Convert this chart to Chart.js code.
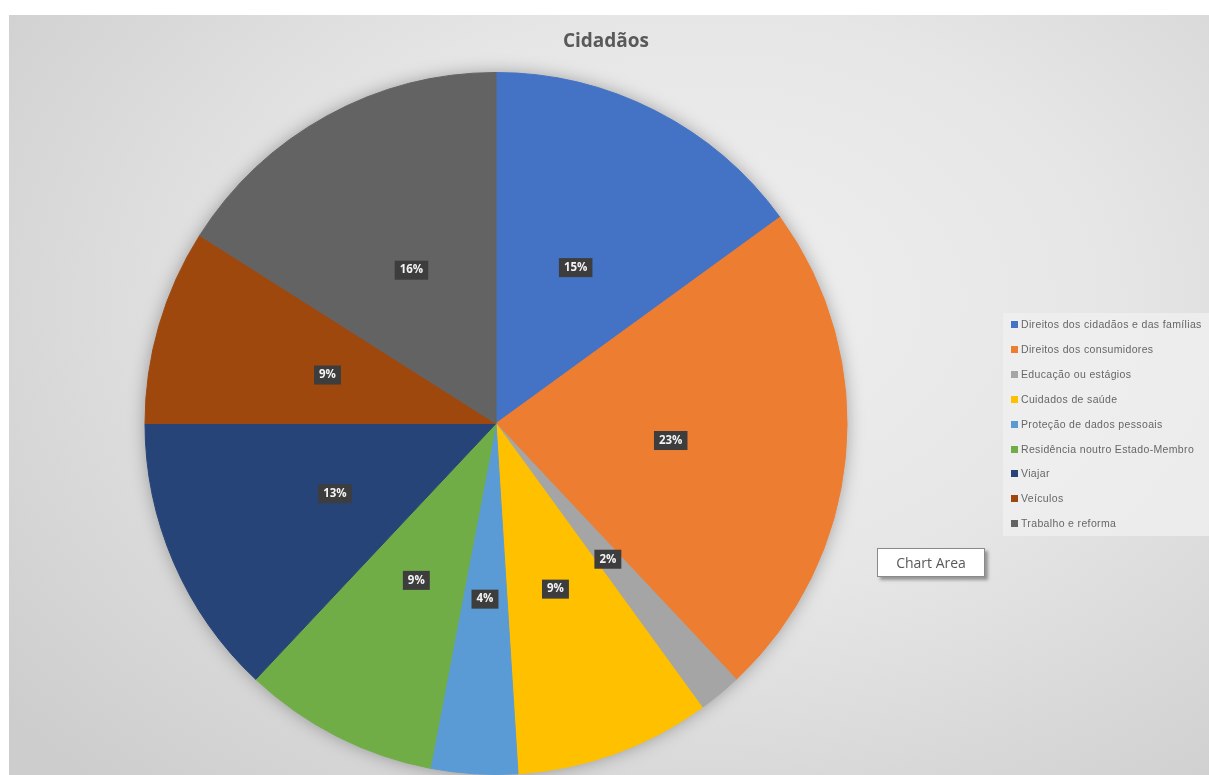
<!DOCTYPE html>
<html>
<head>
<meta charset="utf-8">
<script src="https://cdn.jsdelivr.net/npm/chart.js@4.4.1/dist/chart.umd.min.js"></script>
<style>
  html, body { margin: 0; padding: 0; background: #fff; overflow: hidden; }
  #wrap { position: relative; width: 1209px; height: 775px; }
  #bg {
    position: absolute; left: 9px; top: 15px; width: 1200px; height: 760px;
    background: radial-gradient(ellipse 75% 85% at 58% 38%, #efefef 0%, #e6e6e6 45%, #d8d8d8 75%, #cdcdcd 100%);
  }
  #chart { position: absolute; left: 0; top: 0; }
  #title {
    position: absolute; left: 456px; width: 300px; top: 27px; text-align: center;
    font: bold 19px "Open Sans", "DejaVu Sans", sans-serif; color: #595959;
  }
  #legend {
    position: absolute; left: 1003px; top: 313px; width: 220px; height: 223px;
    background: rgba(240,240,240,0.75);
    font: 10.5px "Liberation Sans", "DejaVu Sans", sans-serif; color: #666;
    letter-spacing: 0.35px;
  }
  #legend .item { position: absolute; left: 8px; white-space: nowrap; line-height: 12px; }
  #legend .sw { display: inline-block; width: 7px; height: 7px; margin-right: 3px; vertical-align: 0px; }
  #tip {
    position: absolute; left: 877px; top: 548px; width: 106px; height: 27px;
    background: #fff; border: 1px solid #8a8a8a; box-shadow: 3px 3px 3px rgba(0,0,0,0.35);
    font: 14px "Open Sans", "DejaVu Sans", sans-serif; color: #595959;
    text-align: center; line-height: 27px;
  }
</style>
</head>
<body>
<div id="wrap">
  <div id="bg"></div>
  <canvas id="chart" width="1209" height="775"></canvas>
  <div id="title">Cidadãos</div>
  <div id="legend"></div>
  <div id="tip">Chart Area</div>
</div>
<script>
// Data
const categories = [
    'Direitos dos cidadãos e das famílias',
    'Direitos dos consumidores',
    'Educação ou estágios',
    'Cuidados de saúde',
    'Proteção de dados pessoais',
    'Residência noutro Estado-Membro',
    'Viajar',
    'Veículos',
    'Trabalho e reforma'
];
const shares = [15, 23, 2, 9, 4, 9, 13, 9, 16];
const colors = ['#4472C4', '#ED7D31', '#A5A5A5', '#FFC000', '#5B9BD5', '#70AD47', '#264478', '#9E480E', '#636363'];

// Soft shadow behind the pie
const pieShadow = {
    id: 'pieShadow',
    beforeDatasetsDraw(chart) {
        const arc = chart.getDatasetMeta(0).data[0];
        if (!arc) return;
        const c = chart.ctx;
        c.save();
        c.shadowColor = 'rgba(0,0,0,0.35)';
        c.shadowBlur = 18;
        c.fillStyle = '#bbb';
        c.beginPath();
        c.arc(arc.x, arc.y, arc.outerRadius - 1, 0, Math.PI * 2);
        c.fill();
        c.restore();
    }
};

// Dark percentage boxes
const sliceLabels = {
    id: 'sliceLabels',
    afterDatasetsDraw(chart) {
        const c = chart.ctx;
        const meta = chart.getDatasetMeta(0);
        c.save();
        c.font = 'bold 11.5px "Open Sans", "DejaVu Sans", sans-serif';
        c.textAlign = 'center';
        c.textBaseline = 'middle';
        meta.data.forEach((arc, i) => {
            const p = arc.tooltipPosition();
            const txt = shares[i] + '%';
            const w = Math.max(26, c.measureText(txt).width + 10);
            c.fillStyle = '#3d3d3d';
            c.fillRect(p.x - w / 2, p.y - 9, w, 19);
            c.fillStyle = '#f4f4f4';
            c.fillText(txt, p.x, p.y + 0.5);
        });
        c.restore();
    }
};

const chart = new Chart(document.getElementById('chart'), {
    type: 'pie',
    data: {
        labels: categories,
        datasets: [{
            data: shares,
            backgroundColor: colors,
            borderColor: colors,
            borderWidth: 1
        }]
    },
    options: {
        responsive: false,
        animation: false,
        layout: { padding: { left: 144, top: 72, right: 361, bottom: 0 } },
        plugins: {
            legend: { display: false },
            tooltip: { enabled: false }
        }
    },
    plugins: [pieShadow, sliceLabels]
});

// Legend from the same arrays
const legendEl = document.getElementById('legend');
categories.forEach((name, i) => {
    const row = document.createElement('div');
    row.className = 'item';
    row.style.top = (5 + i * 24.9) + 'px';
    row.innerHTML = '<span class="sw" style="background:' + colors[i] + '"></span>' + name;
    legendEl.appendChild(row);
});
</script>
</body>
</html>
